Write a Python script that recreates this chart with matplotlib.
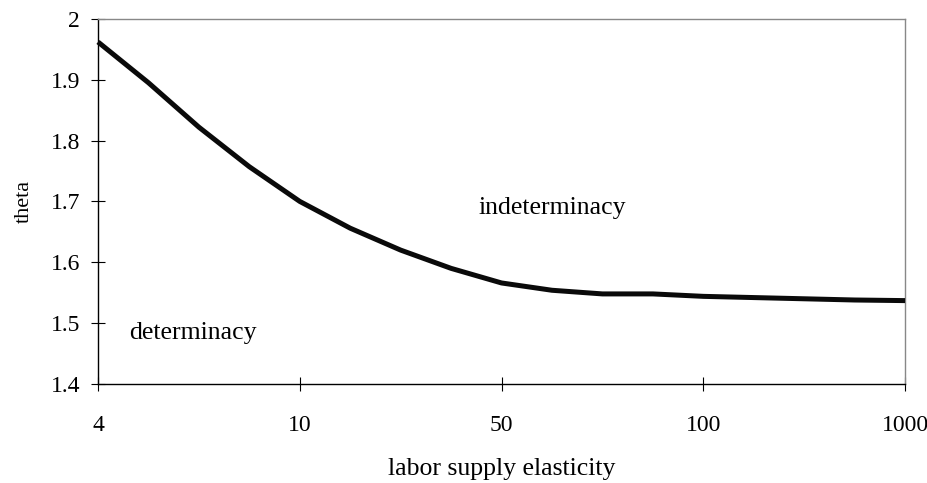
import matplotlib
matplotlib.use("Agg")
from matplotlib import pyplot as plt
import numpy as np

# datos
elasticity_labels = ['4', '10', '50', '100', '1000']
label_pos = [0, 4, 8, 12, 16]
theta = [1.962, 1.895, 1.822, 1.757, 1.700, 1.656, 1.620, 1.590, 1.566,
         1.554, 1.548, 1.548, 1.544, 1.542, 1.540, 1.538, 1.537]
x_idx = np.arange(len(theta))

plt.rcParams['font.family'] = ['Liberation Serif', 'DejaVu Serif']

fig = plt.figure(figsize=(9.28, 4.83), dpi=100)
ax = fig.add_axes([0.1056, 0.205, 0.8697, 0.756])

ax.plot(x_idx, theta, color='#0a0a0a', linewidth=3.6, solid_joinstyle='round',
        solid_capstyle='butt', clip_on=False, zorder=3)

ax.set_xlim(0, 16)
ax.set_ylim(1.4, 2.0)
ax.set_xticks(label_pos)
ax.set_xticklabels(elasticity_labels)
ax.set_yticks([1.4, 1.5, 1.6, 1.7, 1.8, 1.9, 2.0])
ax.set_yticklabels(['1.4', '1.5', '1.6', '1.7', '1.8', '1.9', '2'])
ax.tick_params(axis='both', direction='inout', length=10, width=0.8,
               labelsize=17, color='black')
ax.tick_params(axis='x', pad=17)
ax.tick_params(axis='y', pad=8)

ax.spines['left'].set_color('black')
ax.spines['bottom'].set_color('black')
ax.spines['top'].set_color('#888888')
ax.spines['right'].set_color('#888888')
for s in ax.spines.values():
    s.set_linewidth(1.0)

ax.set_xlabel('labor supply elasticity', fontsize=18.5, labelpad=16)
ax.set_ylabel('theta', fontsize=16, labelpad=12)

ax.text(9.0, 1.689, 'indeterminacy', fontsize=18.5, ha='center', va='center')
ax.text(1.88, 1.484, 'determinacy', fontsize=18.5, ha='center', va='center')

fig.savefig('out.png', dpi=100, facecolor='white')
